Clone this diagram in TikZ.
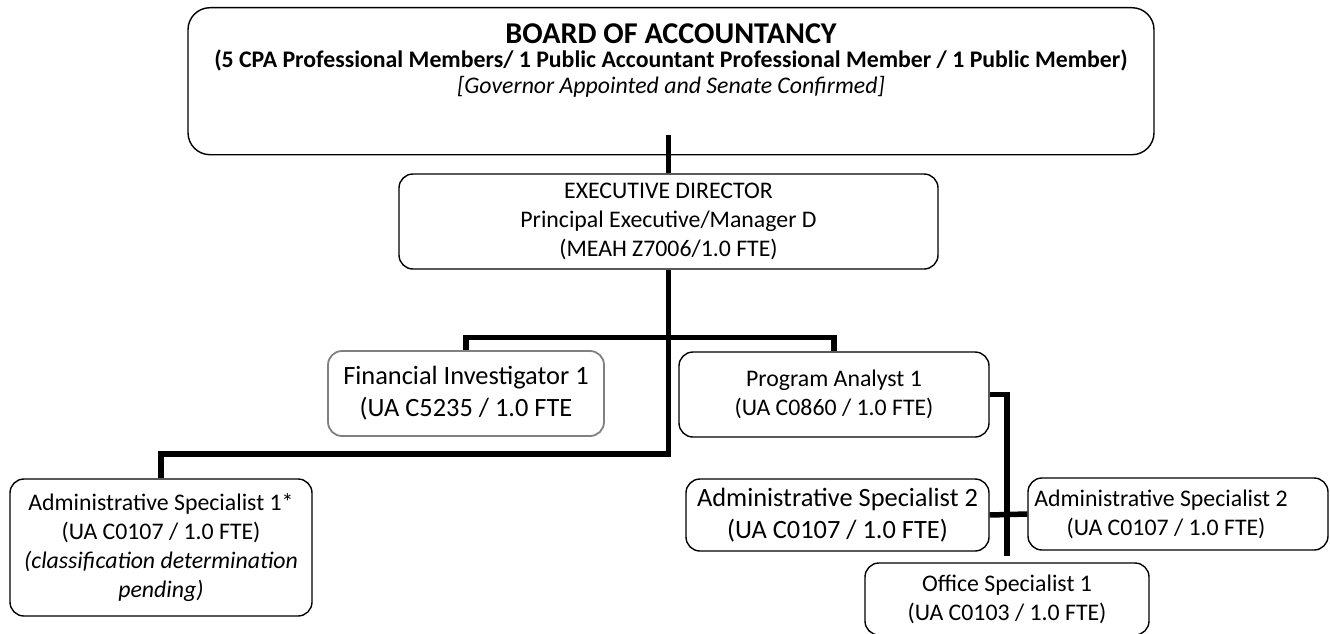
\documentclass[tikz,border=0pt]{standalone}
\usepackage{fontspec}
\setmainfont{Carlito}
\definecolor{fingray}{HTML}{808080}

\begin{document}
\begin{tikzpicture}[
  x=1pt, y=-1pt,
  every node/.style={font=\fontsize{23.8}{29}\selectfont},
  post/.style={draw, rounded corners=14, line width=1.4pt, align=center, inner sep=0pt},
  bigpost/.style={post, font=\fontsize{26.4}{32}\selectfont},
  link/.style={draw, line width=5.5pt}
]
  \useasboundingbox (0,0) rectangle (1330,634);

  % board and director
  \node[post, rounded corners=22, minimum width=966, minimum height=147, anchor=north] (board) at (671,7)
    {\parbox[c][147pt][t]{960pt}{\centering
      {\fontsize{30.2}{31}\selectfont\bfseries\rule{0pt}{36pt}BOARD OF ACCOUNTANCY\par}
      {\fontsize{23.8}{24}\selectfont\bfseries (5 CPA Professional Members/ 1 Public Accountant Professional Member / 1 Public Member)\par}
      {\fontsize{23.8}{26}\selectfont\itshape [Governor Appointed and Senate Confirmed]\par}}};
  \node[post, minimum width=539, minimum height=95] (ed) at (668.5,221.5)
    {EXECUTIVE DIRECTOR\\Principal Executive/Manager D\\(MEAH Z7006/1.0 FTE)};

  % staff
  \node[bigpost, draw=fingray, line width=1.8pt, minimum width=276, minimum height=85] (fin) at (466,393.5)
    {Financial Investigator 1\\(UA C5235 / 1.0 FTE};
  \node[post, minimum width=310, minimum height=85] (pa) at (834,394.5)
    {Program Analyst 1\\(UA C0860 / 1.0 FTE)};
  \node[post, minimum width=302, minimum height=137] (adm1) at (161,547.5)
    {Administrative Specialist 1*\\(UA C0107 / 1.0 FTE)\\\textit{(classification determination}\\\textit{pending)}};
  \node[bigpost, minimum width=303, minimum height=72] (asl) at (837.5,515)
    {Administrative Specialist 2\\(UA C0107 / 1.0 FTE)};
  \node[post, minimum width=300, minimum height=72] (asr) at (1178,514)
    {Administrative Specialist 2\hspace*{34pt}\\(UA C0107 / 1.0 FTE)\hspace*{24pt}};
  \node[post, minimum width=284, minimum height=72] (os) at (1007,599)
    {Office Specialist 1\\(UA C0103 / 1.0 FTE)};

  % connectors
  \coordinate (tap) at (668.5,135);
  \coordinate (bus) at (668.5,337.5);
  \coordinate (fork) at (668.5,454);
  \draw[link] (ed.north) -- (tap);
  \draw[link] (ed.south) -- (fork) -| (adm1.north);
  \draw[link] (fin.north) |- (bus) -| (pa.north);
  \draw[link, shorten >=6pt] (pa.east) -| (os.north);
  \draw[link] (asl.east) -- (asr.west);
\end{tikzpicture}
\end{document}
